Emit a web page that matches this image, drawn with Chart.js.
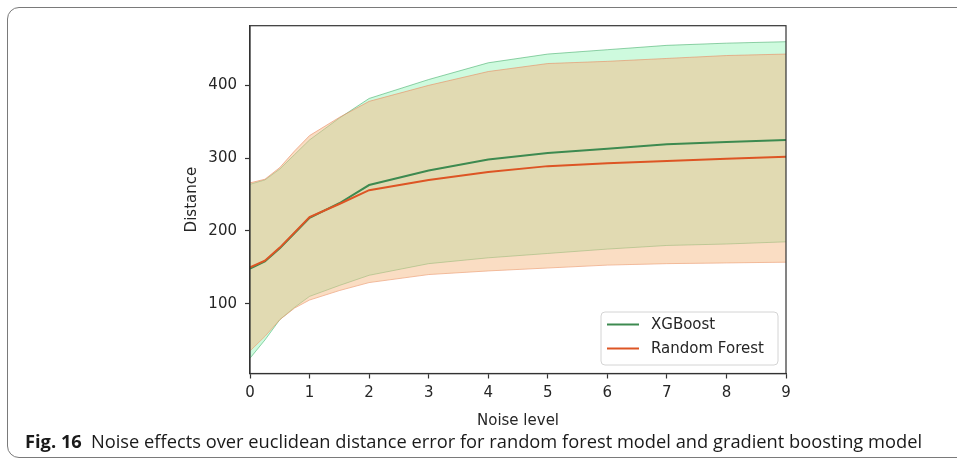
<!DOCTYPE html>
<html>
<head>
<meta charset="utf-8">
<script src="https://cdn.jsdelivr.net/npm/chart.js@4.4.1/dist/chart.umd.min.js"></script>
<style>
  html, body { margin: 0; padding: 0; background: #fff; }
  body { width: 957px; height: 460px; position: relative; overflow: hidden; }
  #frame { position: absolute; left: 7px; top: 7px; width: 1000px; height: 451px;
           border: 1.5px solid #7a7a7a; border-radius: 12px; box-sizing: border-box; }
  #wrap { position: absolute; left: 0; top: 0; width: 957px; height: 460px; }
  #caption { position: absolute; left: 25px; top: 430px; font-family: "Open Sans", "Noto Sans", sans-serif;
             font-size: 18px; line-height: 22px; white-space: nowrap; color: #1a1a1a; transform-origin: 0 50%; }
  #caption b { margin-right: 9px; }
</style>
</head>
<body>
<div id="frame"></div>
<div id="wrap"><canvas id="noise"></canvas></div>
<div id="caption"><b>Fig. 16</b>Noise effects over euclidean distance error for random forest model and gradient boosting model</div>
<script>
// noise levels (x) and distance values
var noiseLevels = [0, 0.25, 0.5, 0.75, 1, 1.5, 2, 3, 4, 5, 6, 7, 8, 9];

var xgbMean  = [148, 158, 176, 197, 218, 238, 263, 283, 298, 307, 313, 319, 322, 325];
var xgbLower = [25, 50, 78, 95, 110, 125, 139, 155, 163, 169, 175, 180, 182, 185];
var xgbUpper = [264, 270, 285, 305, 325, 355, 382, 408, 431, 443, 449, 455, 458, 460];

var rfMean  = [150, 159, 177, 198, 219, 237, 256, 270, 281, 289, 293, 296, 299, 302];
var rfLower = [35, 55, 78, 94, 105, 118, 129, 140, 145, 149, 153, 155, 156, 157];
var rfUpper = [266, 271, 287, 310, 331, 356, 378, 400, 419, 430, 433, 437, 441, 443];

var xTicks = [0, 1, 2, 3, 4, 5, 6, 7, 8, 9];
var yTicks = [100, 200, 300, 400];

function pts(arr) {
    return noiseLevels.map(function (x, i) { return { x: x, y: arr[i] }; });
}

var tickFont = { family: "DejaVu Sans", size: 15 };
var textColor = "#262626";

var data = {
    datasets: [
        { label: "xgb lower", data: pts(xgbLower), borderColor: "rgba(60,170,100,0.55)", borderWidth: 1,
          pointRadius: 0, fill: false, order: 6 },
        { label: "xgb upper", data: pts(xgbUpper), borderColor: "rgba(60,170,100,0.55)", borderWidth: 1,
          backgroundColor: "rgba(59,235,123,0.25)", pointRadius: 0, fill: "-1", order: 5 },
        { label: "rf lower", data: pts(rfLower), borderColor: "rgba(232,140,100,0.6)", borderWidth: 1,
          pointRadius: 0, fill: false, order: 4 },
        { label: "rf upper", data: pts(rfUpper), borderColor: "rgba(232,140,100,0.6)", borderWidth: 1,
          backgroundColor: "rgba(246,188,136,0.5)", pointRadius: 0, fill: "-1", order: 3 },
        { label: "XGBoost", data: pts(xgbMean), borderColor: "#3d8a50", borderWidth: 2,
          pointRadius: 0, fill: false, order: 2, legend: true },
        { label: "Random Forest", data: pts(rfMean), borderColor: "#dd5524", borderWidth: 2,
          pointRadius: 0, fill: false, order: 1, legend: true }
    ]
};

// all four spines, like matplotlib
var spines = {
    id: "spines",
    afterDatasetsDraw: function (chart) {
        var a = chart.chartArea, ctx = chart.ctx;
        ctx.save();
        ctx.strokeStyle = "#333";
        ctx.lineWidth = 1.2;
        ctx.strokeRect(a.left, a.top, a.right - a.left, a.bottom - a.top);
        ctx.restore();
    }
};

// legend box in the lower right corner of the plot
var insideLegend = {
    id: "insideLegend",
    afterDraw: function (chart) {
        var a = chart.chartArea, ctx = chart.ctx;
        var items = chart.data.datasets.filter(function (d) { return d.legend; });
        var w = 177, h = 53;
        var x = a.right - 8 - w, y = a.bottom - 8.5 - h;
        ctx.save();
        ctx.beginPath();
        ctx.roundRect(x, y, w, h, 4);
        ctx.fillStyle = "rgba(255,255,255,0.85)";
        ctx.fill();
        ctx.strokeStyle = "#d4d4d4";
        ctx.lineWidth = 1;
        ctx.stroke();
        ctx.font = "15px 'DejaVu Sans'";
        ctx.textBaseline = "middle";
        items.forEach(function (d, i) {
            var ly = y + 12.5 + i * 24;
            ctx.strokeStyle = d.borderColor;
            ctx.lineWidth = 2;
            ctx.beginPath();
            ctx.moveTo(x + 6, ly);
            ctx.lineTo(x + 38, ly);
            ctx.stroke();
            ctx.fillStyle = textColor;
            ctx.fillText(d.label, x + 50, ly + 1);
        });
        ctx.restore();
    }
};

var options = {
    responsive: true,
    maintainAspectRatio: false,
    animation: false,
    layout: { padding: { left: 170, right: 171, top: 25.7, bottom: 27.5 } },
    scales: {
        x: {
            type: "linear",
            min: 0,
            max: 9,
            afterBuildTicks: function (s) { s.ticks = xTicks.map(function (v) { return { value: v }; }); },
            afterFit: function (s) { s.height = 59; },
            ticks: { font: tickFont, color: textColor, padding: 6, maxRotation: 0, autoSkip: false },
            grid: { display: true, drawOnChartArea: false, drawTicks: true, tickLength: 5, tickColor: "#333", tickWidth: 1.2 },
            border: { display: true, color: "#333", width: 1.2 },
            title: { display: true, text: "Noise level", font: tickFont, color: textColor, padding: { top: 4, bottom: 2.5 } }
        },
        y: {
            type: "linear",
            min: 4,
            max: 482,
            afterBuildTicks: function (s) { s.ticks = yTicks.map(function (v) { return { value: v }; }); },
            afterFit: function (s) { s.width = 80; },
            ticks: { font: tickFont, color: textColor, padding: 8 },
            grid: { display: true, drawOnChartArea: false, drawTicks: true, tickLength: 5, tickColor: "#333", tickWidth: 1.2 },
            border: { display: true, color: "#333", width: 1.2 },
            title: { display: true, text: "Distance", font: tickFont, color: textColor, padding: { top: 13, bottom: 0 } }
        }
    },
    plugins: {
        legend: { display: false },
        tooltip: { enabled: false }
    },
    elements: {
        line: { tension: 0 }
    }
};

new Chart("noise", {
    type: "line",
    data: data,
    options: options,
    plugins: [spines, insideLegend]
});

// fit the caption to the width it has in the figure
var cap = document.getElementById("caption");
cap.style.transform = "scaleX(" + (897 / cap.scrollWidth) + ")";
</script>
</body>
</html>
